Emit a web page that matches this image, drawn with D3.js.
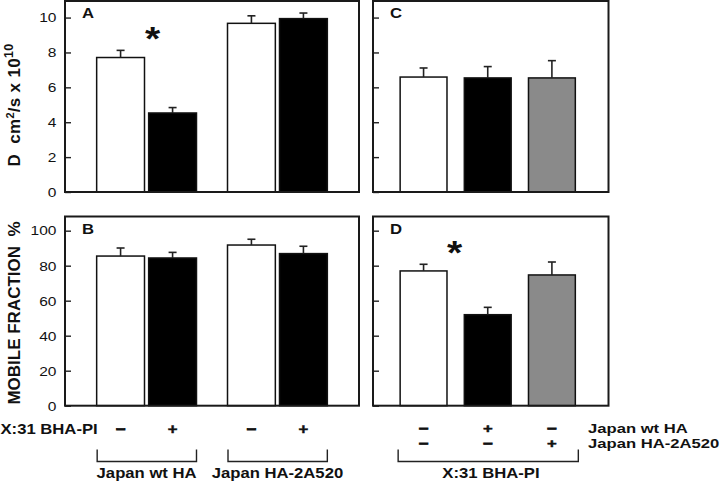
<!DOCTYPE html>
<html><head><meta charset="utf-8">
<script src="https://cdn.jsdelivr.net/npm/d3@7"></script>
<style>body{margin:0;background:#fff} text{font-family:Arial,"Liberation Sans",sans-serif;fill:#111;white-space:pre}</style>
</head><body><svg id="c" width="720" height="481"></svg>
<script>
// ---- data ----
const leftGroups = ["Japan wt HA", "Japan HA-2A520"];
const leftTreat = ["−", "+"];               // X:31 BHA-PI
const diffA = [7.71, 4.53, 9.67, 9.94];      // D cm2/s x 10^10
const diffAErr = [0.41, 0.31, 0.43, 0.32];
const mobB = [85.5, 84.4, 91.8, 86.9];       // mobile fraction %
const mobBErr = [4.6, 3.2, 3.3, 4.2];
const rightCats = ["wt HA", "wt HA + BHA-PI", "HA-2A520 + BHA-PI"];
const rightWt = ["−", "+", "−"];
const rightMut = ["−", "−", "+"];
const diffC = [6.59, 6.54, 6.54];
const diffCErr = [0.52, 0.65, 0.99];
const mobD = [77.0, 52.0, 74.7];
const mobDErr = [3.8, 4.2, 7.4];
const ticksD = [0, 2, 4, 6, 8, 10];
const ticksM = [0, 20, 40, 60, 80, 100];
const leftFill = ["#ffffff", "#000000"];
const rightFill = ["#ffffff", "#000000", "#8a8a8a"];

const svg = d3.select("#c");
const SX = 1.15;
function txt(x, y, s, size, bold, anchor, sx) {
  const t = svg.append("text")
    .attr("transform", `translate(${x},${y}) scale(${sx || SX},1)`)
    .attr("text-anchor", anchor || "start")
    .style("font-size", size + "px")
    .style("font-weight", bold ? "bold" : "normal")
    .text(s);
  if (s === "−") t.attr("stroke", "#111").attr("stroke-width", 0.9);
  if (s === "+") t.attr("stroke", "#111").attr("stroke-width", 0.5);
  return t;
}

// panel geometry
const L = {x0: 65, x1: 359}, R = {x0: 373, x1: 608.5};
const T = {y0: 1, y1: 192}, Bm = {y0: 216.5, y1: 405.7};
const yD = d3.scaleLinear().domain([0, 10.95]).range([T.y1, T.y0]);
const yM = d3.scaleLinear().domain([0, 108.1]).range([Bm.y1, Bm.y0]);

const xGroup = d3.scaleBand().domain(leftGroups).range([L.x0, L.x1]).paddingInner(0.237).paddingOuter(0.242);
const xTreat = d3.scaleBand().domain(leftTreat).range([0, xGroup.bandwidth()]).paddingInner(0.08);
const xR = d3.scaleBand().domain(rightCats).range([R.x0, R.x1]).paddingInner(0.27).paddingOuter(0.47).align(0.45);

const leftBars = [];
leftGroups.forEach((g, gi) => leftTreat.forEach((t, ti) => leftBars.push({g, t, i: gi * 2 + ti, ti})));
const lx = d => xGroup(d.g) + xTreat(d.t);
const lw = xTreat.bandwidth();

function panel(box, yScale, ticks, bars, xf, w, vals, errs, fills, labelled, letter) {
  const g = svg.append("g");
  g.selectAll("rect.bar").data(bars).join("rect").attr("class", "bar")
    .attr("x", xf).attr("width", w)
    .attr("y", (d, i) => yScale(vals[i]))
    .attr("height", (d, i) => yScale(0) - yScale(vals[i]))
    .attr("fill", (d, i) => fills[i]).attr("stroke", "#111").attr("stroke-width", 1.5);
  const eb = g.selectAll("g.err").data(bars).join("g").attr("class", "err");
  eb.append("line")
    .attr("x1", (d, i) => xf(d, i) + w / 2).attr("x2", (d, i) => xf(d, i) + w / 2)
    .attr("y1", (d, i) => yScale(vals[i])).attr("y2", (d, i) => yScale(vals[i] + errs[i]))
    .attr("stroke", "#222").attr("stroke-width", 1.6);
  eb.append("line")
    .attr("x1", (d, i) => xf(d, i) + w / 2 - 4).attr("x2", (d, i) => xf(d, i) + w / 2 + 4)
    .attr("y1", (d, i) => yScale(vals[i] + errs[i])).attr("y2", (d, i) => yScale(vals[i] + errs[i]))
    .attr("stroke", "#222").attr("stroke-width", 1.6);
  const ax = svg.append("g").attr("transform", `translate(${box.x0},0)`)
    .call(d3.axisLeft(yScale).tickValues(ticks).tickSizeInner(-6).tickSizeOuter(0).tickPadding(9));
  ax.select(".domain").remove();
  ax.selectAll(".tick line").attr("stroke", "#222").attr("stroke-width", 1.4);
  if (labelled) {
    ax.selectAll(".tick text").attr("x", null)
      .attr("transform", `translate(-8.5,0) scale(${SX},1)`)
      .style("font-size", "13.5px").style("font-family", "Arial, 'Liberation Sans', sans-serif").attr("fill", "#111");
  } else ax.selectAll(".tick text").remove();
  svg.append("rect").attr("x", box.x0).attr("y", yScale.range()[1])
    .attr("width", box.x1 - box.x0).attr("height", yScale.range()[0] - yScale.range()[1])
    .attr("fill", "none").attr("stroke", "#1a1a1a").attr("stroke-width", 2);
  txt(box.x0 + 17, yScale.range()[1] + 17.3, letter, 14.5, true, "start");
}

const rx = d => xR(d);
panel(L, yD, ticksD, leftBars, lx, lw, diffA, diffAErr, leftBars.map(d => leftFill[d.ti]), true, "A");
panel(L, yM, ticksM, leftBars, lx, lw, mobB, mobBErr, leftBars.map(d => leftFill[d.ti]), true, "B");
panel(R, yD, ticksD, rightCats, rx, xR.bandwidth(), diffC, diffCErr, rightFill, false, "C");
panel(R, yM, ticksM, rightCats, rx, xR.bandwidth(), mobD, mobDErr, rightFill, false, "D");

// asterisks
txt(lx(leftBars[1]) + 4, 50, "*", 34, true, "middle");
txt((xR(rightCats[0]) + xR.bandwidth() + xR(rightCats[1])) / 2 - 1, 264, "*", 34, true, "middle");

// y titles
const yt1 = svg.append("text").attr("transform", `translate(19.5,105) rotate(-90)`)
  .attr("text-anchor", "middle").style("font-size", "17px").style("font-weight", "bold")
  .style("letter-spacing", "0.3px");
yt1.append("tspan").text("D  cm");
yt1.append("tspan").attr("dy", -6).style("font-size", "11px").text("2");
yt1.append("tspan").attr("dy", 6).text("/s x 10");
yt1.append("tspan").attr("dy", -7).style("font-size", "12.5px").text("10");
svg.append("text").attr("transform", `translate(19.5,313) rotate(-90)`)
  .attr("text-anchor", "middle").style("font-size", "17px").style("font-weight", "bold")
  .text("MOBILE FRACTION  %");

// bottom-left annotations
txt(0.5, 433.5, "X:31 BHA-PI", 14.5, true, "start");
leftBars.forEach(d => txt(lx(d) + lw / 2, 434, d.t, 14.5, true, "middle"));
function bracket(xa, xb) {
  svg.append("path").attr("d", `M${xa},449.5V461.5H${xb}V449.5`)
    .attr("fill", "none").attr("stroke", "#222").attr("stroke-width", 1.4);
}
leftGroups.forEach(g => {
  bracket(xGroup(g) + 0.5, xGroup(g) + xGroup.bandwidth());
  txt(xGroup(g) + xGroup.bandwidth() / 2, 477.5, g, 14.5, true, "middle");
});

// bottom-right annotations
rightCats.forEach((c, i) => {
  txt(xR(c) + xR.bandwidth() / 2, 433, rightWt[i], 13, true, "middle", 1.28);
  txt(xR(c) + xR.bandwidth() / 2, 447.5, rightMut[i], 13, true, "middle", 1.28);
});
txt(588, 433, "Japan wt HA", 13, true, "start", 1.28);
txt(588, 447.5, "Japan HA-2A520", 13, true, "start", 1.28);
bracket(xR(rightCats[0]) - 2, xR(rightCats[2]) + xR.bandwidth() + 3);
txt((R.x0 + R.x1) / 2 + 0.2, 477.5, "X:31 BHA-PI", 14.5, true, "middle");
</script></body></html>
